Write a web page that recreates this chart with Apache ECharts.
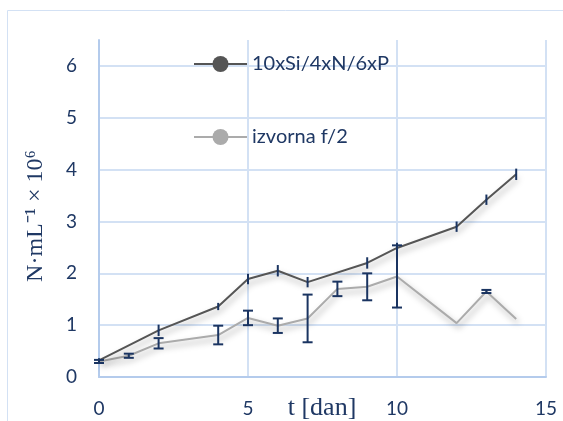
<!DOCTYPE html>
<html>
<head>
<meta charset="utf-8">
<script src="https://cdn.jsdelivr.net/npm/echarts@6/dist/echarts.min.js"></script>
<style>
  html, body { margin: 0; padding: 0; background: #fff; }
  #chart { width: 563px; height: 421px; }
</style>
</head>
<body>
<div id="chart"></div>
<script>
// podaci očitani sa slike
const seriesNames = ['10xSi/4xN/6xP', 'izvorna f/2']

const darkX = [0, 2, 4, 5, 6, 7, 9, 10, 12, 13, 14]
const darkY = [0.32, 0.90, 1.36, 1.89, 2.05, 1.83, 2.20, 2.49, 2.90, 3.42, 3.91]
const darkErr = [0.04, 0.11, 0.07, 0.10, 0.11, 0.10, 0.11, 0.10, 0.10, 0.10, 0.11]

const lightX = [0, 1, 2, 4, 5, 6, 7, 8, 9, 10, 12, 13, 14]
const lightY = [0.30, 0.41, 0.65, 0.81, 1.14, 0.99, 1.13, 1.70, 1.74, 1.94, 1.04, 1.65, 1.12]
const lightErr = [0.03, 0.04, 0.10, 0.18, 0.14, 0.14, 0.46, 0.14, 0.26, 0.60, 0, 0.03, 0]

const xTicks = [0, 5, 10, 15]
const yTicks = [0, 1, 2, 3, 4, 5, 6]

const gridColor = '#d3e1f4'
const textColor = '#1f3864'
const barColor = '#1a3461'

const toPoints = (xs, ys) => xs.map((x, i) => [x, ys[i]])
const toErr = (xs, ys, es) => xs.map((x, i) => [x, ys[i], es[i]])

// error bar kao custom serija
function errorBars (capped) {
  return function (params, api) {
    const x = api.value(0)
    const y = api.value(1)
    const e = api.value(2)
    if (!e) return null
    const lo = api.coord([x, y - e])
    const hi = api.coord([x, y + e])
    const style = { stroke: barColor, lineWidth: 2 }
    const children = [
      { type: 'line', shape: { x1: lo[0], y1: lo[1], x2: hi[0], y2: hi[1] }, style }
    ]
    if (capped) {
      const w = 5
      children.push({ type: 'line', shape: { x1: lo[0] - w, y1: lo[1], x2: lo[0] + w, y2: lo[1] }, style })
      children.push({ type: 'line', shape: { x1: hi[0] - w, y1: hi[1], x2: hi[0] + w, y2: hi[1] }, style })
    }
    return { type: 'group', children }
  }
}

const shadow = {
  shadowColor: 'rgba(0,0,0,0.35)',
  shadowBlur: 6,
  shadowOffsetX: 2,
  shadowOffsetY: 4
}

const chart = echarts.init(document.getElementById('chart'))

chart.setOption({
  animation: false,
  textStyle: { fontFamily: 'Lato' },
  graphic: [
    {
      type: 'rect',
      shape: { x: 7.5, y: 10.5, width: 700, height: 600 },
      style: { fill: 'none', stroke: gridColor, lineWidth: 1 },
      z: -10
    },
    {
      type: 'text',
      x: 36, y: 216,
      rotation: Math.PI / 2,
      style: {
        text: 'N·mL⁻¹ × 10⁶',
        fontFamily: 'Liberation Serif',
        fontSize: 24,
        fill: textColor,
        align: 'center',
        verticalAlign: 'middle'
      }
    },
    {
      type: 'text',
      x: 322, y: 408,
      style: {
        text: 't [dan]',
        fontFamily: 'Liberation Serif',
        fontSize: 26,
        fill: textColor,
        align: 'center',
        verticalAlign: 'middle'
      }
    }
  ],
  legend: {
    orient: 'vertical',
    left: 193,
    top: 54,
    padding: 0,
    itemWidth: 53,
    itemHeight: 20,
    itemGap: 53,
    data: seriesNames,
    textStyle: { fontSize: 20, color: textColor, fontFamily: 'Lato' }
  },
  grid: [
    { left: 99, right: 17, top: 40, bottom: 44 },
    { left: 99, right: 17, top: 66, bottom: 44 }
  ],
  xAxis: [
    {
      gridIndex: 0,
      type: 'value',
      min: 0, max: 15, interval: 5,
      axisLine: { show: true, lineStyle: { color: '#b4cbec', width: 2 } },
      axisTick: { show: false },
      splitLine: { show: true, lineStyle: { color: gridColor, width: 2 } },
      axisLabel: {
        color: textColor, fontSize: 19, margin: 22,
        customValues: xTicks
      }
    },
    {
      gridIndex: 1,
      type: 'value',
      min: 0, max: 15,
      show: false
    }
  ],
  yAxis: [
    {
      gridIndex: 0,
      type: 'value',
      min: 0, max: 6.5,
      axisLine: { show: true, lineStyle: { color: '#b4cbec', width: 2 } },
      axisTick: { show: false },
      axisLabel: { show: false },
      splitLine: { show: false }
    },
    {
      gridIndex: 1,
      type: 'value',
      min: 0, max: 6, interval: 1,
      axisLine: { show: false },
      axisTick: { show: false },
      splitLine: { show: true, lineStyle: { color: gridColor, width: 2 } },
      axisLabel: {
        color: textColor, fontSize: 19, margin: 22,
        customValues: yTicks
      }
    }
  ],
  series: [
    {
      name: seriesNames[0],
      type: 'line',
      xAxisIndex: 1, yAxisIndex: 1,
      data: toPoints(darkX, darkY),
      symbol: 'circle',
      symbolSize: 15,
      showSymbol: false,
      itemStyle: { color: '#555555' },
      lineStyle: Object.assign({ color: '#555555', width: 2 }, shadow),
      z: 3
    },
    {
      name: seriesNames[1],
      type: 'line',
      xAxisIndex: 1, yAxisIndex: 1,
      data: toPoints(lightX, lightY),
      symbol: 'circle',
      symbolSize: 15,
      showSymbol: false,
      itemStyle: { color: '#ababab' },
      lineStyle: Object.assign({ color: '#ababab', width: 2 }, shadow),
      z: 2
    },
    {
      type: 'custom',
      xAxisIndex: 1, yAxisIndex: 1,
      renderItem: errorBars(false),
      data: toErr(darkX, darkY, darkErr),
      z: 5
    },
    {
      type: 'custom',
      xAxisIndex: 1, yAxisIndex: 1,
      renderItem: errorBars(true),
      data: toErr(lightX, lightY, lightErr),
      z: 5
    }
  ]
})
</script>
</body>
</html>
